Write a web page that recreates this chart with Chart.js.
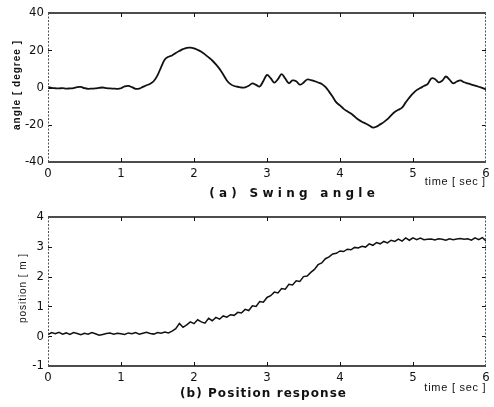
<!DOCTYPE html>
<html>
<head>
<meta charset="utf-8">
<script src="https://cdn.jsdelivr.net/npm/chart.js@4.4.1/dist/chart.umd.min.js"></script>
<style>
  html, body { margin: 0; padding: 0; background: #fff; }
  #wrap { position: relative; width: 494px; height: 407px; }
  .box { position: absolute; left: 0; width: 494px; }
  #boxA { top: 0; height: 200px; }
  #boxB { top: 200px; height: 207px; }
</style>
</head>
<body>
<div id="wrap">
  <div class="box" id="boxA"><canvas id="angleChart"></canvas></div>
  <div class="box" id="boxB"><canvas id="posChart"></canvas></div>
</div>
<script>
const sampleTime = [
  0, 0.05, 0.1, 0.15, 0.2, 0.25, 0.3, 0.35, 0.4, 0.45, 0.5, 0.55, 0.6, 0.65, 0.7, 0.75, 0.8, 0.85, 0.9, 0.95,
  1, 1.05, 1.1, 1.15, 1.2, 1.25, 1.3, 1.35, 1.4, 1.45, 1.5, 1.55, 1.6, 1.65, 1.7, 1.75, 1.8, 1.85, 1.9, 1.95,
  2, 2.05, 2.1, 2.15, 2.2, 2.25, 2.3, 2.35, 2.4, 2.45, 2.5, 2.55, 2.6, 2.65, 2.7, 2.75, 2.8, 2.85, 2.9, 2.95,
  3, 3.05, 3.1, 3.15, 3.2, 3.25, 3.3, 3.35, 3.4, 3.45, 3.5, 3.55, 3.6, 3.65, 3.7, 3.75, 3.8, 3.85, 3.9, 3.95,
  4, 4.05, 4.1, 4.15, 4.2, 4.25, 4.3, 4.35, 4.4, 4.45, 4.5, 4.55, 4.6, 4.65, 4.7, 4.75, 4.8, 4.85, 4.9, 4.95,
  5, 5.05, 5.1, 5.15, 5.2, 5.25, 5.3, 5.35, 5.4, 5.45, 5.5, 5.55, 5.6, 5.65, 5.7, 5.75, 5.8, 5.85, 5.9, 5.95,
  6
];

const swingAngle = [
  0.3, -0.2, -0.4, -0.5, -0.3, -0.6, -0.5, -0.3, 0.2, 0.3, -0.4, -0.7, -0.6, -0.5, -0.2, 0.0, -0.3, -0.5, -0.6, -0.7,
  -0.4, 0.6, 0.9, 0.2, -0.7, -0.6, 0.3, 1.2, 2.0, 3.5, 6.5, 11, 15, 16.5, 17.2, 18.5, 19.6, 20.6, 21.3, 21.4,
  21.0, 20.2, 19.2, 17.8, 16.2, 14.5, 12.4, 10.0, 7.0, 3.8, 1.8, 0.8, 0.4, 0.0, 0.1, 0.9, 2.2, 1.4, 0.5, 3.5,
  6.8, 5.0, 2.6, 4.5, 7.2, 4.8, 2.3, 3.8, 3.4, 1.5, 2.6, 4.3, 4.0, 3.4, 2.7, 1.9, 0.3, -2.2, -5.0, -8.0,
  -9.6, -11.5, -12.8, -14.0, -15.6, -17.2, -18.4, -19.3, -20.4, -21.5, -21.0, -19.8, -18.6, -17.0, -15.0, -13.2, -12.0, -10.8, -8.0, -5.4,
  -3.2, -1.4, -0.3, 0.8, 1.8, 4.8, 4.6, 2.8, 3.6, 5.9, 4.2, 2.2, 3.2, 3.8, 2.8, 2.2, 1.6, 1.0, 0.4, -0.2,
  -1.0
];

const cartPosition = [
  0.05, 0.12, 0.08, 0.13, 0.07, 0.11, 0.06, 0.12, 0.09, 0.05, 0.10, 0.07, 0.12, 0.08, 0.03, 0.06, 0.09, 0.11, 0.07, 0.10,
  0.08, 0.06, 0.11, 0.08, 0.12, 0.07, 0.10, 0.13, 0.09, 0.07, 0.12, 0.10, 0.14, 0.11, 0.17, 0.25, 0.43, 0.30, 0.38, 0.48,
  0.42, 0.55, 0.48, 0.44, 0.60, 0.52, 0.63, 0.57, 0.68, 0.64, 0.72, 0.70, 0.80, 0.78, 0.90, 0.86, 1.02, 1.00, 1.16, 1.14,
  1.30, 1.36, 1.48, 1.45, 1.60, 1.58, 1.74, 1.72, 1.86, 1.84, 2.00, 2.02, 2.14, 2.24, 2.40, 2.46, 2.60, 2.66, 2.76, 2.78,
  2.86, 2.84, 2.92, 2.90, 2.98, 2.96, 3.02, 2.99, 3.10, 3.05, 3.14, 3.10, 3.18, 3.13, 3.22, 3.18, 3.26, 3.19, 3.30, 3.22,
  3.30, 3.24, 3.29, 3.24, 3.25, 3.26, 3.23, 3.27, 3.25, 3.22, 3.27, 3.24, 3.26, 3.28, 3.25, 3.27, 3.22, 3.30, 3.24, 3.31,
  3.20
];

const timeTicks = [0, 1, 2, 3, 4, 5, 6];
const angleTicks = [-40, -20, 0, 20, 40];
const positionTicks = [-1, 0, 1, 2, 3, 4];

// --- styling ---
const INK = '#111';
const TICK_FONT = { family: "'Liberation Sans Narrow', 'DejaVu Sans Condensed', 'Liberation Sans', sans-serif", size: 13 };
const SANS = "'Liberation Sans', Arial, sans-serif";
const WIDE = "'DejaVu Sans', sans-serif";

// inward tick marks, box frame and captions
const framePlugin = {
  id: 'frame',
  afterDraw(chart, args, opts) {
    const { ctx, chartArea: a, scales: { x, y } } = chart;
    ctx.save();
    ctx.strokeStyle = INK;
    ctx.lineWidth = 1;
    const seg = (x1, y1, x2, y2) => { ctx.beginPath(); ctx.moveTo(x1, y1); ctx.lineTo(x2, y2); ctx.stroke(); };

    opts.xTicks.forEach(v => {
      const px = Math.round(x.getPixelForValue(v)) + 0.5;
      seg(px, a.bottom, px, a.bottom - 4);
      seg(px, a.top, px, a.top + 4);
    });
    opts.yTicks.forEach(v => {
      const py = Math.round(y.getPixelForValue(v)) + 0.5;
      seg(a.left, py, a.left + 4, py);
      seg(a.right, py, a.right - 4, py);
    });

    // top / bottom solid, sides dotted like the scan
    ctx.lineWidth = 1.5;
    seg(a.left, a.top, a.right, a.top);
    seg(a.left, a.bottom, a.right, a.bottom);
    ctx.lineWidth = 1;
    ctx.strokeStyle = '#555';
    ctx.setLineDash([2, 1.5]);
    seg(a.left + 0.5, a.top, a.left + 0.5, a.bottom);
    seg(a.right - 0.5, a.top, a.right - 0.5, a.bottom);
    ctx.setLineDash([]);

    ctx.fillStyle = INK;
    ctx.textAlign = 'center';
    ctx.textBaseline = 'middle';
    opts.captions.forEach(c => {
      ctx.save();
      ctx.font = c.font;
      ctx.letterSpacing = '0px';
      const natural = ctx.measureText(c.text).width;
      const n = c.text.length;
      const sp = c.width ? (c.width - natural) / n : 0;
      ctx.letterSpacing = sp + 'px';
      ctx.translate(c.x + sp / 2, c.y);
      if (c.rot) ctx.rotate(c.rot);
      ctx.fillText(c.text, 0, 0);
      ctx.restore();
    });
    ctx.restore();
  }
};

function makeChart(canvasId, values, ySpec, frameOpts, layoutPad, xHeight, lineWidth, tension) {
  const ctx = document.getElementById(canvasId);
  return new Chart(ctx, {
    type: 'line',
    data: {
      datasets: [{
        data: sampleTime.map((t, i) => ({ x: t, y: values[i] })),
        borderColor: INK,
        borderWidth: lineWidth,
        pointRadius: 0,
        tension: tension,
        fill: false,
      }],
    },
    options: {
      responsive: true,
      maintainAspectRatio: false,
      animation: false,
      layout: { padding: layoutPad },
      plugins: {
        legend: { display: false },
        tooltip: { enabled: false },
        frame: frameOpts,
      },
      scales: {
        x: {
          type: 'linear', min: 0, max: 6,
          afterFit: s => { s.height = xHeight; },
          afterBuildTicks: s => { s.ticks = timeTicks.map(v => ({ value: v })); },
          grid: { display: false, drawTicks: false },
          border: { display: false },
          ticks: { color: INK, font: TICK_FONT, padding: 4, maxRotation: 0 },
        },
        y: {
          type: 'linear', min: ySpec.min, max: ySpec.max,
          afterFit: s => { s.width = 48; },
          afterBuildTicks: s => { s.ticks = ySpec.ticks.map(v => ({ value: v })); },
          grid: { display: false, drawTicks: false },
          border: { display: false },
          ticks: { color: INK, font: TICK_FONT, padding: 4 },
        },
      },
    },
    plugins: [framePlugin],
  });
}

makeChart('angleChart', swingAngle,
  { min: -40, max: 40, ticks: angleTicks },
  {
    xTicks: [1, 2, 3, 4, 5], yTicks: [-20, 0, 20],
    captions: [
      { text: 'angle [ degree ]', x: 17, y: 85, rot: -Math.PI / 2, font: `bold 10px ${SANS}`, width: 90 },
      { text: '(a) Swing angle', x: 292, y: 194, font: `bold 12px ${WIDE}`, width: 170 },
      { text: 'time [ sec ]', x: 455, y: 182, font: `11px ${SANS}`, width: 61 },
    ],
  },
  { top: 13, right: 8, left: 0, bottom: 0 }, 38, 1.8, 0.35);

makeChart('posChart', cartPosition,
  { min: -1, max: 4, ticks: positionTicks },
  {
    xTicks: [1, 2, 3, 4, 5], yTicks: [0, 1, 2, 3],
    captions: [
      { text: 'position [ m ]', x: 23, y: 88, rot: -Math.PI / 2, font: `10px ${SANS}`, width: 70 },
      { text: '(b) Position response', x: 263, y: 194, font: `bold 12px ${WIDE}`, width: 167 },
      { text: 'time [ sec ]', x: 455, y: 188, font: `11px ${SANS}`, width: 62 },
    ],
  },
  { top: 17, right: 8, left: 0, bottom: 0 }, 41, 1.5, 0);
</script>
</body>
</html>
